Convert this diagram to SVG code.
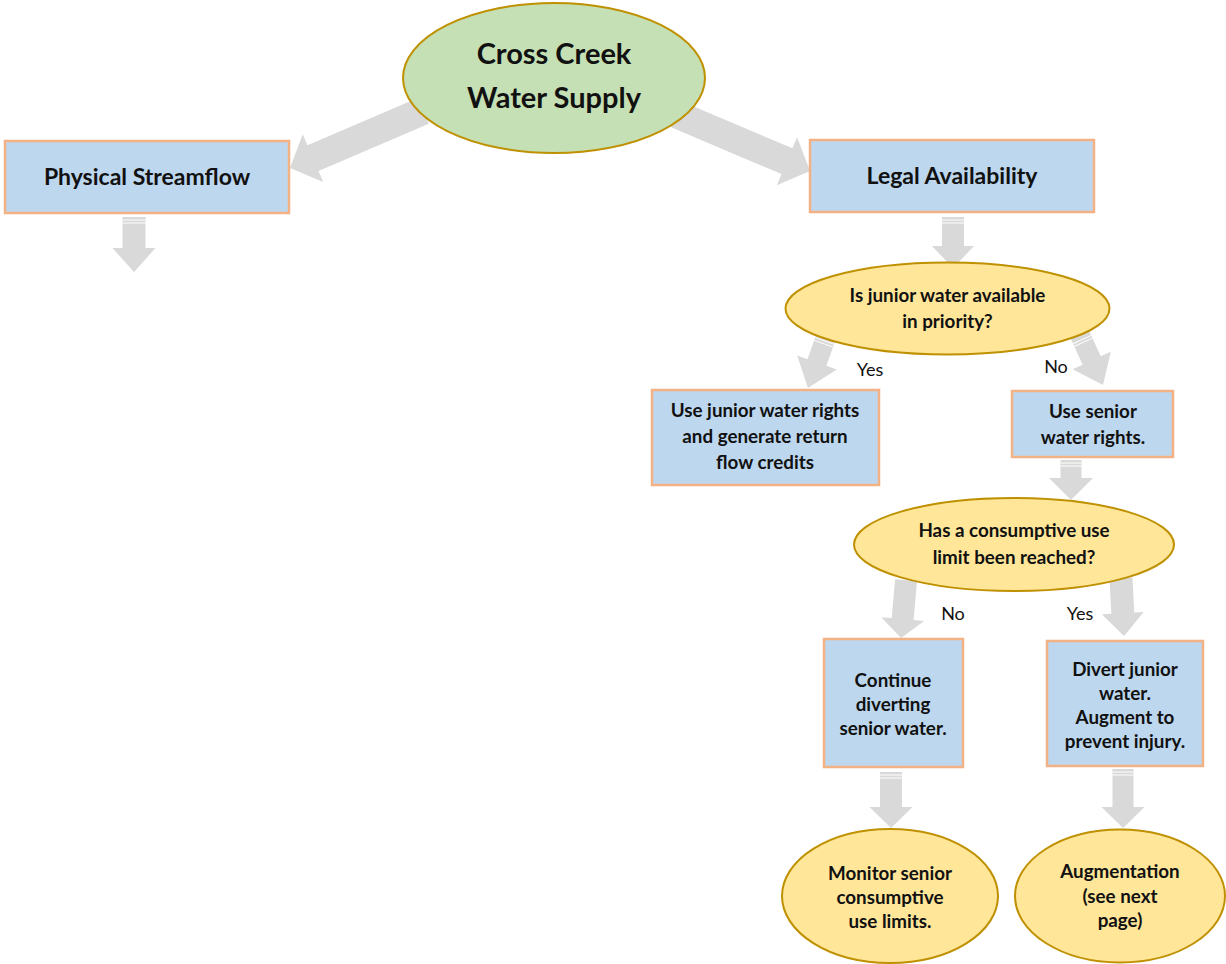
<svg xmlns="http://www.w3.org/2000/svg" width="1226" height="964" viewBox="0 0 1226 964">
<style>
.box{fill:#BDD7EE;stroke:#F4B183;stroke-width:2.5}
.yel{fill:#FFE699;stroke:#BF9000;stroke-width:2}
.grn{fill:#C5E0B4;stroke:#BF9000;stroke-width:2}
.arr{fill:#D9D9D9}
.str{stroke:#FFFFFF;stroke-width:1}
text{font-family:Lato,"Open Sans","Liberation Sans",sans-serif;fill:#111;text-anchor:middle}
.b{font-weight:bold;font-size:18.8px}
.h{font-weight:bold;font-size:23px}
.t{font-weight:bold;font-size:29px}
.lbl{font-size:18px;font-weight:normal}
</style>
<rect width="1226" height="964" fill="#FFFFFF"/>
<g id="connectors">
  <g transform="translate(290,168) rotate(66.8)">
    <polygon class="arr" points="-14,-145 14,-145 14,-25 26,-25 0,0 -26,-25 -14,-25"/>
  </g>
  <g transform="translate(810,171) rotate(-67)">
    <polygon class="arr" points="-14,-145 14,-145 14,-25 26,-25 0,0 -26,-25 -14,-25"/>
  </g>
  <g transform="translate(134,272)">
    <polygon class="arr" points="-11.5,-55 11.5,-55 11.5,-24 21.5,-24 0,0 -21.5,-24 -11.5,-24"/>
    <line class="str" x1="-11.5" y1="-52" x2="11.5" y2="-52"/><line class="str" x1="-11.5" y1="-49" x2="11.5" y2="-49"/>
  </g>
  <g transform="translate(953,268)">
    <polygon class="arr" points="-11,-51 11,-51 11,-22 21,-22 0,0 -21,-22 -11,-22"/>
    <line class="str" x1="-11" y1="-48" x2="11" y2="-48"/><line class="str" x1="-11" y1="-45" x2="11" y2="-45"/>
  </g>
  <g transform="translate(808,388) rotate(19.4)">
    <polygon class="arr" points="-10,-56 10,-56 10,-27 21,-27 0,0 -21,-27 -10,-27"/>
    <line class="str" x1="-10" y1="-50" x2="10" y2="-50"/><line class="str" x1="-10" y1="-47" x2="10" y2="-47"/>
  </g>
  <g transform="translate(1103,385) rotate(-24.7)">
    <polygon class="arr" points="-10,-56 10,-56 10,-27 21,-27 0,0 -21,-27 -10,-27"/>
    <line class="str" x1="-10" y1="-50" x2="10" y2="-50"/><line class="str" x1="-10" y1="-47" x2="10" y2="-47"/>
  </g>
  <g transform="translate(1071,500)">
    <polygon class="arr" points="-10.5,-40 10.5,-40 10.5,-22 22,-22 0,0 -22,-22 -10.5,-22"/>
    <line class="str" x1="-10.5" y1="-37" x2="10.5" y2="-37"/><line class="str" x1="-10.5" y1="-34" x2="10.5" y2="-34"/>
  </g>
  <g transform="translate(901,638) rotate(5)">
    <polygon class="arr" points="-11,-58 11,-58 11,-19 21.5,-19 0,0 -21.5,-19 -11,-19"/>
  </g>
  <g transform="translate(1124,636) rotate(-3)">
    <polygon class="arr" points="-11.5,-58 11.5,-58 11.5,-23 21,-23 0,0 -21,-23 -11.5,-23"/>
  </g>
  <g transform="translate(891,828)">
    <polygon class="arr" points="-11,-56 11,-56 11,-21 21.5,-21 0,0 -21.5,-21 -11,-21"/>
    <line class="str" x1="-11" y1="-53" x2="11" y2="-53"/><line class="str" x1="-11" y1="-50" x2="11" y2="-50"/>
  </g>
  <g transform="translate(1123,828)">
    <polygon class="arr" points="-10.5,-59 10.5,-59 10.5,-21 21.5,-21 0,0 -21.5,-21 -10.5,-21"/>
    <line class="str" x1="-10.5" y1="-56" x2="10.5" y2="-56"/><line class="str" x1="-10.5" y1="-53" x2="10.5" y2="-53"/>
  </g>
  <text class="lbl" x="870" y="376">Yes</text>
  <text class="lbl" x="1056" y="373">No</text>
  <text class="lbl" x="953" y="620">No</text>
  <text class="lbl" x="1080" y="620">Yes</text>
</g>
<g id="n-root">
  <ellipse class="grn" cx="554" cy="78" rx="151" ry="75"/>
  <text class="t" x="554" y="64">Cross Creek</text>
  <text class="t" x="554" y="108">Water Supply</text>
</g>
<g id="n-physical">
  <rect class="box" x="5" y="141" width="284" height="72"/>
  <text class="h" x="147" y="185">Physical Streamflow</text>
</g>
<g id="n-legal">
  <rect class="box" x="810" y="140" width="284" height="72"/>
  <text class="h" x="952" y="184">Legal Availability</text>
</g>
<g id="n-junior-q">
  <ellipse class="yel" cx="947.5" cy="308.5" rx="162" ry="46"/>
  <text class="b" x="947.5" y="302">Is junior water available</text>
  <text class="b" x="947.5" y="328">in priority?</text>
</g>
<g id="n-use-junior">
  <rect class="box" x="652" y="390" width="227" height="95"/>
  <text class="b" x="765" y="417">Use junior water rights</text>
  <text class="b" x="765" y="443">and generate return</text>
  <text class="b" x="765" y="469">flow credits</text>
</g>
<g id="n-use-senior">
  <rect class="box" x="1012" y="391" width="161" height="66"/>
  <text class="b" x="1093" y="418">Use senior</text>
  <text class="b" x="1093" y="444">water rights.</text>
</g>
<g id="n-cu-q">
  <ellipse class="yel" cx="1014" cy="544.5" rx="160" ry="46.5"/>
  <text class="b" x="1014" y="537">Has a consumptive use</text>
  <text class="b" x="1014" y="564">limit been reached?</text>
</g>
<g id="n-continue">
  <rect class="box" x="824" y="639" width="139" height="128"/>
  <text class="b" x="893" y="687">Continue</text>
  <text class="b" x="893" y="711">diverting</text>
  <text class="b" x="893" y="735">senior water.</text>
</g>
<g id="n-divert">
  <rect class="box" x="1047" y="641" width="156" height="125"/>
  <text class="b" x="1125" y="676">Divert junior</text>
  <text class="b" x="1125" y="700">water.</text>
  <text class="b" x="1125" y="724">Augment to</text>
  <text class="b" x="1125" y="748">prevent injury.</text>
</g>
<g id="n-monitor">
  <ellipse class="yel" cx="890" cy="896" rx="108" ry="67"/>
  <text class="b" x="890" y="880">Monitor senior</text>
  <text class="b" x="890" y="904">consumptive</text>
  <text class="b" x="890" y="928">use limits.</text>
</g>
<g id="n-augmentation">
  <ellipse class="yel" cx="1120" cy="896" rx="105" ry="66.5"/>
  <text class="b" x="1120" y="878">Augmentation</text>
  <text class="b" x="1120" y="903">(see next</text>
  <text class="b" x="1120" y="927">page)</text>
</g>
</svg>
